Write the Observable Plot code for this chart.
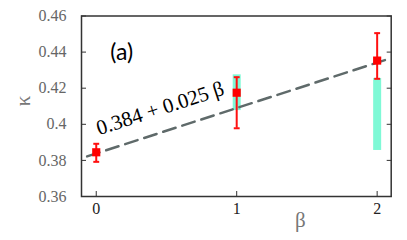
<!DOCTYPE html>
<html><head><meta charset="utf-8">
<script src="https://cdn.jsdelivr.net/npm/d3@7"></script>
<script src="https://cdn.jsdelivr.net/npm/@observablehq/plot@0.6"></script>
<style>body{margin:0;background:#fff}</style>
</head><body><div id="chart"></div>
<script>
const betas = [0, 1, 2];
const kappa = [0.3845, 0.4175, 0.4353];
const errLow = [0.3792, 0.3978, 0.4252];
const errHigh = [0.3892, 0.4261, 0.4505];
const bandLow = [null, 0.4076, 0.3855];
const bandHigh = [null, 0.4274, 0.4254];
const fitX = [-0.065, 2.1];
const fitY = [0.3822, 0.4367];
const yTicks = [0.36, 0.38, 0.40, 0.42, 0.44, 0.46];
const yTickLabels = ["0.36", "0.38", "0.4", "0.42", "0.44", "0.46"];
const xTicks = [0, 1, 2];
const fitLabel = "0.384 + 0.025 β";
const panelLabel = "(a)";

const pts = betas.map((b, i) => ({b, k: kappa[i], lo: errLow[i], hi: errHigh[i], bl: bandLow[i], bh: bandHigh[i]}));
const bands = pts.filter(d => d.bl != null);
const fit = fitX.map((x, i) => ({x, y: fitY[i]}));
const capHalf = 0.021;

const chart = Plot.plot({
  width: 407, height: 240,
  marginLeft: 81, marginRight: 16.3, marginTop: 15.5, marginBottom: 44,
  x: {domain: [-0.105, 2.1]},
  y: {domain: [0.36, 0.46]},
  marks: [
    Plot.ruleX(bands, {x: "b", y1: "bl", y2: "bh", stroke: "#7ff9d6", strokeWidth: 8}),
    Plot.line(fit, {x: "x", y: "y", stroke: "#5f6a6a", strokeWidth: 2.5, strokeDasharray: "13,7"}),
    Plot.ruleX(pts, {x: "b", y1: "lo", y2: "hi", stroke: "#ff1010", strokeWidth: 2}),
    Plot.link(pts, {x1: d => d.b - capHalf, x2: d => d.b + capHalf, y1: "lo", y2: "lo", stroke: "#ff1010", strokeWidth: 2}),
    Plot.link(pts, {x1: d => d.b - capHalf, x2: d => d.b + capHalf, y1: "hi", y2: "hi", stroke: "#ff1010", strokeWidth: 2}),
    Plot.dot(pts, {x: "b", y: "k", symbol: "square", r: 4.6, fill: "#ff0000", stroke: "none"}),
    Plot.text(yTicks, {frameAnchor: "left", y: d => d, text: (d, i) => yTickLabels[i], dx: -15, textAnchor: "end", fontSize: 16, fill: "#666"}),
    Plot.axisY(yTicks, {anchor: "left", tickSize: -5, text: null, stroke: "#333", label: null}),
    Plot.axisY(yTicks, {anchor: "right", tickSize: -5, text: null, stroke: "#333", label: null}),
    Plot.axisX(xTicks, {anchor: "bottom", tickSize: -5, text: null, stroke: "#333", label: null}),
    Plot.text(xTicks, {frameAnchor: "bottom", x: d => d, text: d => String(d), dy: 12, lineAnchor: "middle", fontSize: 16, fill: "#222"}),
    Plot.frame({stroke: "#333", strokeWidth: 1.5}),
    Plot.text([fitLabel], {x: 0.455, y: 0.4088, text: d => d, rotate: -18, fontSize: 21, fill: "#000"}),
    Plot.text([panelLabel], {x: 0.10, y: 0.4398, text: d => d, textAnchor: "start", fontSize: 23, fill: "#000", className: "panel-label"}),
    Plot.text(["κ"], {frameAnchor: "left", dx: -58, rotate: -90, text: d => d, fontSize: 21, fill: "#777"}),
    Plot.text(["β"], {frameAnchor: "bottom", dx: 64, dy: 24, lineAnchor: "middle", text: d => d, fontSize: 21, fill: "#777"})
  ]
});
d3.select(chart).selectAll("text").style("font-family", "'Liberation Serif', serif");
d3.select(chart).selectAll(".panel-label text").style("font-family", "Lato, sans-serif");
document.getElementById("chart").appendChild(chart);
</script>
</body></html>
